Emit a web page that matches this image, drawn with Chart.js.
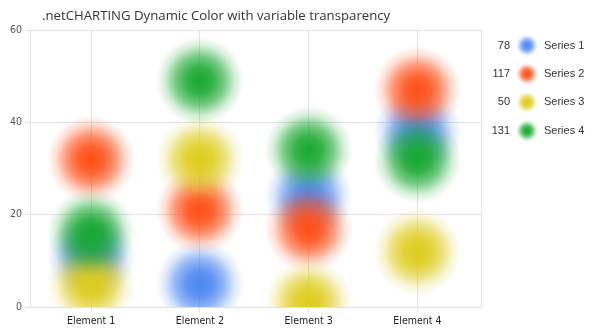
<!DOCTYPE html>
<html>
<head>
<meta charset="utf-8">
<script src="https://cdn.jsdelivr.net/npm/chart.js@4/dist/chart.umd.min.js"></script>
<style>
  html, body { margin: 0; padding: 0; background: #fff; }
  #wrap { width: 592px; height: 334px; }
</style>
</head>
<body>
<div id="wrap"><canvas id="blobChart"></canvas></div>
<script>
const categories = ['Element 1', 'Element 2', 'Element 3', 'Element 4'];
const seriesNames = ['Series 1', 'Series 2', 'Series 3', 'Series 4'];
const series1 = [11, 5, 24, 38];
const series2 = [32, 21, 17, 47];
const series3 = [5, 32, 1, 12];
const series4 = [16, 49, 34, 32];
const yTicks = [0, 20, 40, 60];

const colors = [[74, 134, 240], [255, 78, 22], [222, 204, 26], [24, 168, 46]];
const allSeries = [series1, series2, series3, series4];

// soft radial blob used as the point style
function makeBlob(rgb, r) {
    const c = document.createElement('canvas');
    c.width = c.height = r * 2;
    const g = c.getContext('2d');
    const grad = g.createRadialGradient(r, r, 0, r, r, r);
    const col = a => 'rgba(' + rgb.join(',') + ',' + a + ')';
    grad.addColorStop(0, col(1));
    grad.addColorStop(0.3, col(0.88));
    grad.addColorStop(0.55, col(0.6));
    grad.addColorStop(0.8, col(0.18));
    grad.addColorStop(1, col(0));
    g.fillStyle = grad;
    g.fillRect(0, 0, r * 2, r * 2);
    return c;
}

const blobs = colors.map(c => makeBlob(c, 44));
const legendBlobs = colors.map(c => makeBlob(c, 11));

const datasets = allSeries.map((vals, i) => ({
    label: seriesNames[i],
    data: vals.map((v, j) => ({ x: j, y: v })),
    pointStyle: blobs[i],
    pointHoverRadius: 0,
    order: 4 - i,
    clip: 0
}));

const titleAndLegend = {
    id: 'titleAndLegend',
    afterDraw(chart) {
        const ctx = chart.ctx;
        const area = chart.chartArea;
        ctx.save();
        // plot frame on the right side
        ctx.strokeStyle = '#e2e2e2';
        ctx.lineWidth = 1;
        ctx.beginPath();
        ctx.moveTo(Math.round(area.right) + 0.5, area.top);
        ctx.lineTo(Math.round(area.right) + 0.5, area.bottom);
        ctx.stroke();

        ctx.fillStyle = '#333';
        ctx.font = '13.2px "Open Sans", sans-serif';
        ctx.textBaseline = 'middle';
        ctx.textAlign = 'left';
        ctx.fillText('.netCHARTING Dynamic Color with variable transparency', 42, 16);

        ctx.font = '11px "Liberation Sans", Arial, sans-serif';
        allSeries.forEach((vals, i) => {
            const y = 45.5 + i * 28.4;
            const total = vals.reduce((a, b) => a + b, 0);
            ctx.textAlign = 'right';
            ctx.fillText(String(total), 510, y);
            ctx.drawImage(legendBlobs[i], 527 - 11, y - 11);
            ctx.textAlign = 'left';
            ctx.fillText(seriesNames[i], 544, y);
        });
        ctx.restore();
    }
};

new Chart(document.getElementById('blobChart'), {
    type: 'scatter',
    data: { datasets: datasets },
    plugins: [titleAndLegend],
    options: {
        responsive: true,
        maintainAspectRatio: false,
        animation: false,
        layout: { padding: { top: 30, right: 111, left: 0, bottom: 0 } },
        plugins: {
            legend: { display: false },
            title: { display: false },
            tooltip: { enabled: false }
        },
        scales: {
            x: {
                type: 'linear',
                min: -0.562,
                max: 3.585,
                afterBuildTicks: scale => { scale.ticks = categories.map((c, i) => ({ value: i })); },
                afterFit: scale => { scale.height = 27; },
                grid: { color: '#e2e2e2', tickLength: 5 },
                border: { color: '#e2e2e2' },
                ticks: {
                    padding: 3,
                    color: '#222',
                    font: { family: 'DejaVu Sans Condensed', size: 10.5 },
                    callback: v => categories[v]
                }
            },
            y: {
                min: 0,
                max: 60,
                afterBuildTicks: scale => { scale.ticks = yTicks.map(v => ({ value: v })); },
                afterFit: scale => { scale.width = 30; },
                grid: { color: '#e2e2e2', tickLength: 5 },
                border: { color: '#e2e2e2' },
                ticks: {
                    padding: 3,
                    color: '#555',
                    font: { family: 'DejaVu Sans Condensed', size: 10.5 }
                }
            }
        }
    }
});
</script>
</body>
</html>
